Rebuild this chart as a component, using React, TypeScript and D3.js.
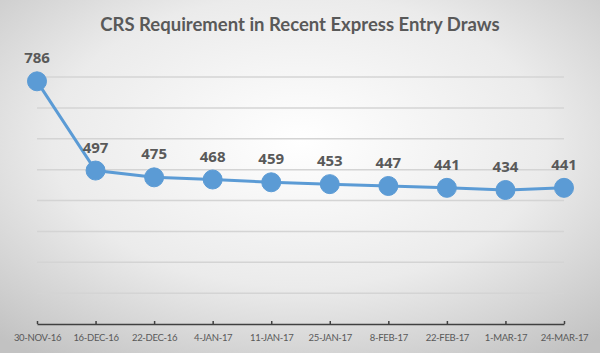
import React, { useEffect, useRef } from 'react';
import * as d3 from 'd3';

const DRAW_DATES = ['30-NOV-16', '16-DEC-16', '22-DEC-16', '4-JAN-17', '11-JAN-17', '25-JAN-17', '8-FEB-17', '22-FEB-17', '1-MAR-17', '24-MAR-17'];
const CRS_SCORES = [786, 497, 475, 468, 459, 453, 447, 441, 434, 441];
const GRID_VALUES = [100, 200, 300, 400, 500, 600, 700, 800];

const App: React.FC = () => {
  const svgRef = useRef<SVGSVGElement>(null);

  useEffect(() => {
    if (!svgRef.current) return;
    const width = 600;
    const height = 353;
    const svg = d3.select(svgRef.current);
    svg.selectAll('*').remove();

    // background: soft radial gradient like the Excel chart area
    const defs = svg.append('defs');
    const grad = defs.append('radialGradient')
      .attr('id', 'bg')
      .attr('cx', '50%').attr('cy', '40%').attr('r', '75%');
    grad.append('stop').attr('offset', '0%').attr('stop-color', '#ffffff');
    grad.append('stop').attr('offset', '55%').attr('stop-color', '#ebebeb');
    grad.append('stop').attr('offset', '100%').attr('stop-color', '#c2c2c2');

    svg.append('rect')
      .attr('width', width).attr('height', height)
      .attr('fill', 'url(#bg)');

    const x = d3.scalePoint<string>()
      .domain(DRAW_DATES)
      .range([37, 564]);

    const y = d3.scaleLinear()
      .domain([0, 800])
      .range([324, 77]);

    // title
    svg.append('text')
      .attr('x', 300).attr('y', 31)
      .attr('text-anchor', 'middle')
      .attr('font-family', 'Lato, sans-serif')
      .attr('font-weight', 'bold')
      .attr('font-size', 18.5)
      .attr('fill', '#595959')
      .text('CRS Requirement in Recent Express Entry Draws');

    // horizontal gridlines
    svg.append('g')
      .selectAll('line')
      .data(GRID_VALUES)
      .enter()
      .append('line')
      .attr('x1', 37).attr('x2', 564)
      .attr('y1', d => y(d)).attr('y2', d => y(d))
      .attr('stroke', '#d4d4d4')
      .attr('stroke-width', 1.5);

    // x axis
    const axis = svg.append('g')
      .attr('transform', `translate(0,${y(0)})`)
      .call(d3.axisBottom(x).tickSizeInner(-3).tickSizeOuter(0).tickPadding(10));
    axis.select('.domain').attr('stroke', '#404040').attr('stroke-width', 1.5);
    axis.selectAll('.tick line').attr('stroke', '#404040').attr('stroke-width', 1.5);
    axis.selectAll('.tick text')
      .attr('font-family', 'Lato, sans-serif')
      .attr('font-size', 9.5)
      .attr('letter-spacing', -0.3)
      .attr('fill', '#595959');

    // line
    const points = DRAW_DATES.map((d, i) => ({ date: d, value: CRS_SCORES[i] }));
    const line = d3.line<{ date: string; value: number }>()
      .x(d => x(d.date)!)
      .y(d => y(d.value));

    svg.append('path')
      .datum(points)
      .attr('d', line)
      .attr('fill', 'none')
      .attr('stroke', '#5b9bd5')
      .attr('stroke-width', 3);

    svg.append('g')
      .selectAll('circle')
      .data(points)
      .enter()
      .append('circle')
      .attr('cx', d => x(d.date)!)
      .attr('cy', d => y(d.value))
      .attr('r', 9.5)
      .attr('fill', '#5b9bd5')
      .attr('stroke', '#5b9bd5')
      .attr('stroke-width', 1);

    // data labels
    svg.append('g')
      .selectAll('text')
      .data(points)
      .enter()
      .append('text')
      .attr('x', d => x(d.date)!)
      .attr('y', d => y(d.value) - 18)
      .attr('text-anchor', 'middle')
      .attr('font-family', '"Open Sans", sans-serif')
      .attr('font-weight', 'bold')
      .attr('font-size', 15)
      .attr('fill', '#595959')
      .text(d => d.value);
  }, []);

  return (
    <svg
      ref={svgRef}
      width="600"
      height="353"
      viewBox="0 0 600 353"
      style={{ position: 'absolute', left: 0, top: 0, display: 'block' }}
    ></svg>
  );
};

export default App;
